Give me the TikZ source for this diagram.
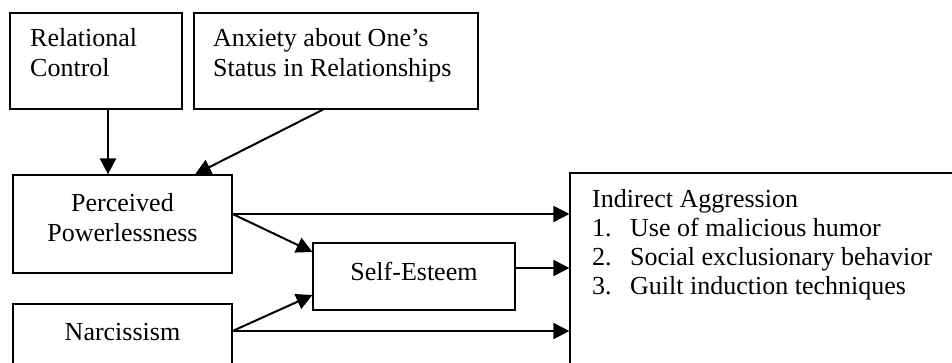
\documentclass[tikz,border=0pt]{standalone}
\usepackage{fontspec}
\setmainfont{Liberation Serif}
\usetikzlibrary{arrows.meta}
\newcommand{\iaitem}[1]{\makebox[38pt][l]{#1}}
\tikzset{
  box/.style={draw, line width=1.2pt, inner sep=0pt},
  txt/.style={inner sep=0pt, font=\fontsize{26}{30}\selectfont},
  link/.style={line width=2pt, -{Triangle[length=16pt, width=16pt]}}
}
\begin{document}
\begin{tikzpicture}[x=1pt, y=1pt]
\useasboundingbox (0,0) rectangle (952,362);
\clip (0,0) rectangle (952,362);
\node[box, minimum width=172, minimum height=96] (rc) at (96,301) {};
\node[box, minimum width=284, minimum height=96] (anx) at (336,301) {};
\node[box, minimum width=219, minimum height=98] (pp) at (122.5,138) {};
\node[box, minimum width=219, minimum height=98] (narc) at (122.5,9) {};
\node[box, minimum width=202, minimum height=67] (se) at (414,85.5) {};
\node[box, minimum width=400, minimum height=247] (ia) at (770,65.5) {};
\node[txt, anchor=base west, align=left] (rc-lbl) at (30,285) {Relational\\Control};
\node[txt, anchor=base west, align=left] (anx-lbl) at (213,285) {Anxiety about One’s\\Status in Relationships};
\node[txt, anchor=base, align=center] (pp-lbl) at (122.5,121) {Perceived\\Powerlessness};
\node[txt, anchor=base] (se-lbl) at (414,82) {Self-Esteem};
\node[txt, anchor=base] (narc-lbl) at (122.5,22) {Narcissism};
\node[txt, anchor=base west, align=left, font=\fontsize{26}{29}\selectfont] (ia-lbl) at (592,68) {Indirect Aggression\\
  \iaitem{1.}Use of malicious humor\\
  \iaitem{2.}Social exclusionary behavior\\
  \iaitem{3.}Guilt induction techniques};
\coordinate (pp-out) at ([yshift=10pt]pp.east);
\coordinate (se-out) at ([yshift=8.5pt]se.east);
\coordinate (narc-out) at ([yshift=22pt]narc.east);
\draw[link] ([xshift=12pt]rc.south) -- ([xshift=12pt]rc.south |- pp.north);
\draw[link] ([xshift=-13pt]anx.south) -- ([xshift=72.5pt]pp.north);
\draw[link] (pp-out) -- (ia.west |- pp-out);
\draw[link] (pp-out) -- ([yshift=24.5pt]se.west);
\draw[link] (se-out) -- (ia.west |- se-out);
\draw[link] (narc-out) -- ([yshift=-18.5pt]se.west);
\draw[link] (narc-out) -- (ia.west |- narc-out);
\end{tikzpicture}
\end{document}
